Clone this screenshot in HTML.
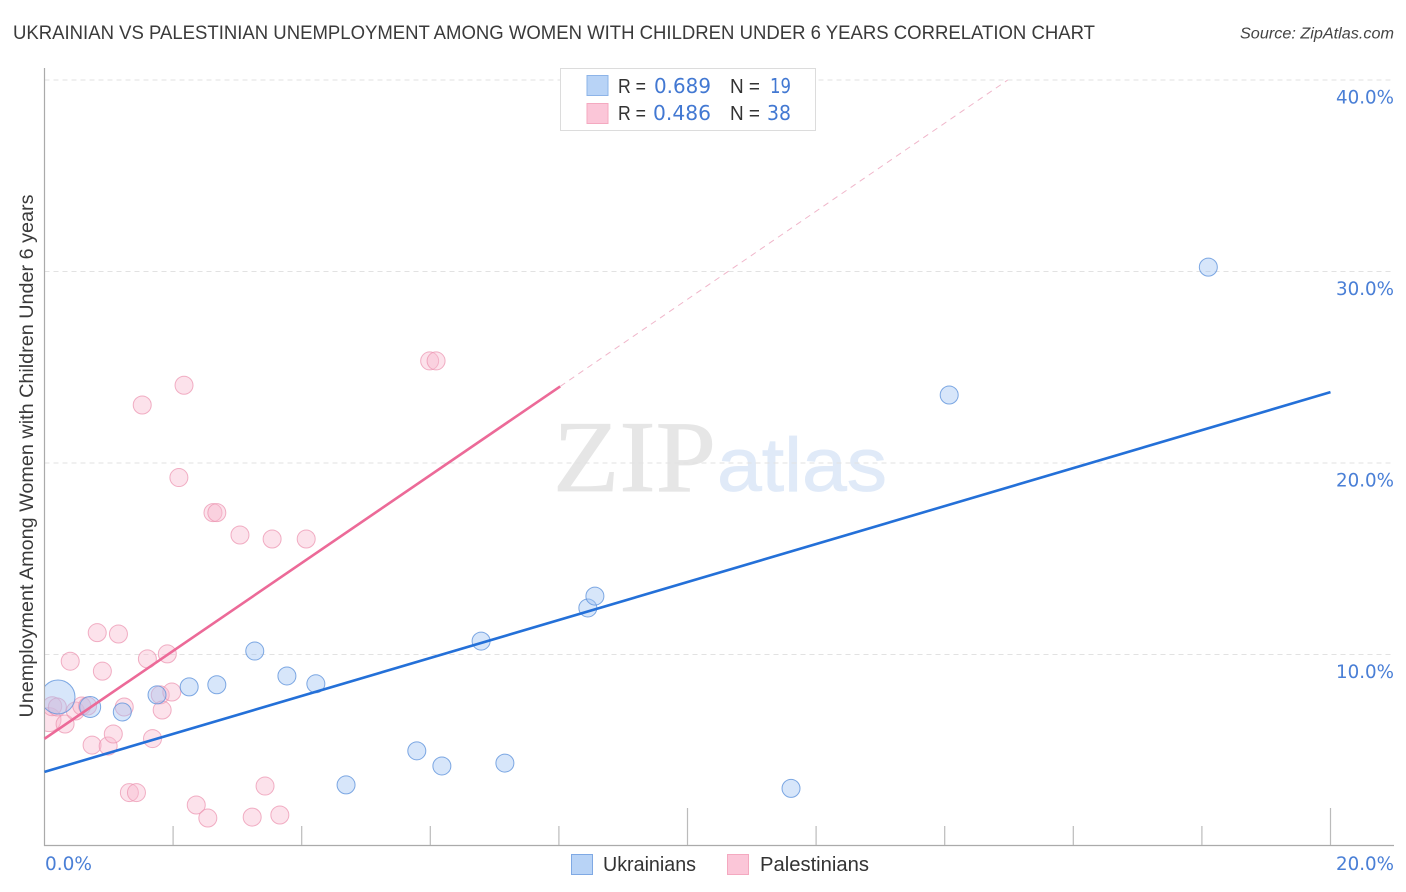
<!DOCTYPE html>
<html lang="en">
<head>
<meta charset="utf-8">
<title>Ukrainian vs Palestinian Unemployment Chart</title>
<style>
html,body{margin:0;padding:0;background:#fff;width:1406px;height:892px;overflow:hidden}
svg{display:block;font-family:"Liberation Sans",sans-serif}
</style>
</head>
<body>
<svg id="chart" width="1406" height="892" viewBox="0 0 1406 892">
<defs><clipPath id="plot-clip"><rect x="45" y="60" width="1349" height="786"/></clipPath></defs>
<text x="13" y="39" font-size="19.5" fill="#3a3a3a" textLength="1082" lengthAdjust="spacingAndGlyphs">UKRAINIAN VS PALESTINIAN UNEMPLOYMENT AMONG WOMEN WITH CHILDREN UNDER 6 YEARS CORRELATION CHART</text>
<text x="1394" y="38.5" font-size="15.5" font-style="italic" fill="#444" text-anchor="end" textLength="154" lengthAdjust="spacingAndGlyphs">Source: ZipAtlas.com</text>
<g>
<text x="553" y="491" font-family="'Liberation Serif',serif" font-size="102" fill="#e6e6e6" stroke="#e6e6e6" stroke-width="0.8" textLength="163" lengthAdjust="spacingAndGlyphs">ZIP</text>
<text x="717" y="491" font-family="'Liberation Sans',sans-serif" font-size="76" fill="#e0eaf8" stroke="#e0eaf8" stroke-width="0.8" textLength="170" lengthAdjust="spacingAndGlyphs">atlas</text>
</g>
<g id="grid"></g>
<g id="axes"></g>
<g id="points" clip-path="url(#plot-clip)"></g>
<g id="lines"></g>
<text transform="translate(33,456) rotate(-90)" font-size="19" fill="#3a3a3a" text-anchor="middle" textLength="523" lengthAdjust="spacingAndGlyphs">Unemployment Among Women with Children Under 6 years</text>
<g>
<rect x="560.5" y="68.5" width="255" height="62" fill="#fff" stroke="#dcdcdc"/>
<rect x="587" y="75.5" width="21" height="20" fill="#b8d3f6" stroke="#8db4e8"/>
<rect x="587" y="103.5" width="21" height="20" fill="#fbc6d8" stroke="#f4a9c0"/>
<g font-size="20" fill="#333">
<text x="618" y="93" textLength="28" lengthAdjust="spacingAndGlyphs">R =</text>
<text x="618" y="120" textLength="28" lengthAdjust="spacingAndGlyphs">R =</text>
<text x="730" y="93" textLength="30" lengthAdjust="spacingAndGlyphs">N =</text>
<text x="730" y="120" textLength="30" lengthAdjust="spacingAndGlyphs">N =</text>
</g>
<g font-family="'DejaVu Sans',sans-serif" font-size="20.5" fill="#4278d2">
<text x="654" y="93" textLength="57" lengthAdjust="spacingAndGlyphs">0.689</text>
<text x="653" y="120" textLength="58" lengthAdjust="spacingAndGlyphs">0.486</text>
<text x="770" y="93" textLength="21" lengthAdjust="spacingAndGlyphs">19</text>
<text x="767" y="120" textLength="24" lengthAdjust="spacingAndGlyphs">38</text>
</g>
</g>
<g>
<rect x="571.5" y="854.5" width="21" height="20" fill="#b8d3f6" stroke="#7fa9e4"/>
<text x="603" y="871" font-size="20" fill="#333" textLength="93" lengthAdjust="spacingAndGlyphs">Ukrainians</text>
<rect x="727.5" y="854.5" width="21" height="20" fill="#fbc6d8" stroke="#f4a9c0"/>
<text x="760" y="871" font-size="20" fill="#333" textLength="109" lengthAdjust="spacingAndGlyphs">Palestinians</text>
</g>
</svg>
<script>
const yTicks = [10, 20, 30, 40];
const yTickLabels = ["10.0%", "20.0%", "30.0%", "40.0%"];
const xTicks = [0, 2, 4, 6, 8, 10, 12, 14, 16, 18, 20];
const xMajorTicks = [10, 20];
const xEndLabels = ["0.0%", "20.0%"];

const ukrainianX = [0.21, 0.71, 1.21, 1.75, 2.25, 2.68, 3.27, 3.77, 4.22, 4.69, 5.79, 6.18, 6.79, 7.16, 8.45, 8.56, 11.61, 14.07, 18.10];
const ukrainianY = [7.78, 7.26, 7.00, 7.89, 8.31, 8.42, 10.18, 8.88, 8.47, 3.19, 4.97, 4.18, 10.70, 4.33, 12.43, 13.05, 3.01, 23.55, 30.23];
const ukrainianR = [17, 10.5, 9, 9, 9, 9, 9, 9, 9, 9, 9, 9, 9, 9, 9, 9, 9, 9, 9];

const palestinianX = [0.07, 0.12, 0.20, 0.32, 0.40, 0.48, 0.58, 0.67, 0.74, 0.82, 0.90, 0.99, 1.07, 1.15, 1.24, 1.32, 1.43, 1.52, 1.60, 1.68, 1.80, 1.83, 1.91, 1.98, 2.09, 2.17, 2.36, 2.54, 2.62, 2.68, 3.04, 3.23, 3.43, 3.54, 3.66, 4.07, 5.99, 6.09];
const palestinianY = [6.6, 7.3, 7.26, 6.37, 9.65, 7.05, 7.31, 7.31, 5.27, 11.14, 9.13, 5.22, 5.85, 11.07, 7.26, 2.79, 2.79, 23.03, 9.77, 5.61, 7.89, 7.10, 10.03, 8.04, 19.24, 24.06, 2.14, 1.46, 17.41, 17.41, 16.24, 1.51, 3.13, 16.03, 1.62, 16.03, 25.33, 25.33];
const palestinianR = [12, 9.5, 9, 9, 9, 9, 9, 9, 9, 9, 9, 9, 9, 9, 9, 9, 9, 9, 9, 9, 9, 9, 9, 9, 9, 9, 9, 9, 9, 9, 9, 9, 9, 9, 9, 9, 9, 9];

const blueLineX = [0, 20];
const blueLineY = [3.87, 23.7];
const pinkSolidX = [0, 8.02];
const pinkSolidY = [5.6, 24.0];
const pinkDashX = [8.02, 14.98];
const pinkDashY = [24.0, 40];

const xScale = v => 44.5 + v * 64.3;
const yScale = v => 846 - v * 19.15;
const NS = "http://www.w3.org/2000/svg";
function make(parent, tag, attrs, text) {
  const el = document.createElementNS(NS, tag);
  for (const k in attrs) el.setAttribute(k, attrs[k]);
  if (text !== undefined) el.textContent = text;
  document.getElementById(parent).appendChild(el);
  return el;
}

yTicks.forEach((t, i) => {
  const line = make("grid", "line", {x1: 44.5, x2: 1394, y1: yScale(t), y2: yScale(t), stroke: "#e2e2e2", "stroke-width": 1, "stroke-dasharray": "5 4"});
  
  
  const label = make("axes", "text", {x: 1394, y: yScale(t) + 23.5, "text-anchor": "end", "font-family": "'DejaVu Sans',sans-serif", "font-size": 18.5, fill: "#4a7fd6", textLength: 58, lengthAdjust: "spacingAndGlyphs"}, yTickLabels[i]);
  
  
});

const yAxis = make("axes", "line", {x1: 44.5, x2: 44.5, y1: 68, y2: 846, stroke: "#aaa", "stroke-width": 1.2});


const xAxis = make("axes", "line", {x1: 44, x2: 1394, y1: 845.5, y2: 845.5, stroke: "#aaa", "stroke-width": 1.2});



xTicks.slice(1).forEach(t => {
  const top = xMajorTicks.includes(t) ? 808 : 826;
  const tick = make("axes", "line", {x1: xScale(t), x2: xScale(t), y1: top, y2: 845, stroke: "#bbb", "stroke-width": 1.2});
  
  
});

const xLabelLeft = make("axes", "text", {x: 45, y: 870, "font-family": "'DejaVu Sans',sans-serif", "font-size": 18.5, fill: "#4a7fd6", textLength: 47, lengthAdjust: "spacingAndGlyphs"}, xEndLabels[0]);


const xLabelRight = make("axes", "text", {x: 1394, y: 870, "text-anchor": "end", "font-family": "'DejaVu Sans',sans-serif", "font-size": 18.5, fill: "#4a7fd6", textLength: 58, lengthAdjust: "spacingAndGlyphs"}, xEndLabels[1]);



palestinianX.forEach((x, i) => {
  const c = make("points", "circle", {cx: xScale(x), cy: yScale(palestinianY[i]), r: palestinianR[i], fill: "rgba(248,185,207,0.42)", stroke: "rgba(236,150,178,0.75)", "stroke-width": 1});
  
  
});
ukrainianX.forEach((x, i) => {
  const c = make("points", "circle", {cx: xScale(x), cy: yScale(ukrainianY[i]), r: ukrainianR[i], fill: "rgba(160,196,242,0.42)", stroke: "rgba(95,148,220,0.8)", "stroke-width": 1});
  
  
});

const blueLine = make("lines", "line", {x1: xScale(blueLineX[0]), y1: yScale(blueLineY[0]), x2: xScale(blueLineX[1]), y2: yScale(blueLineY[1]), stroke: "#2470d8", "stroke-width": 2.6});


const pinkLine = make("lines", "line", {x1: xScale(pinkSolidX[0]), y1: yScale(pinkSolidY[0]), x2: xScale(pinkSolidX[1]), y2: yScale(pinkSolidY[1]), stroke: "#ec6a98", "stroke-width": 2.6});


const pinkDash = make("lines", "line", {x1: xScale(pinkDashX[0]), y1: yScale(pinkDashY[0]), x2: xScale(pinkDashX[1]), y2: yScale(pinkDashY[1]), stroke: "#f0b6ca", "stroke-width": 1, "stroke-dasharray": "6 5"});


</script>
</body>
</html>
